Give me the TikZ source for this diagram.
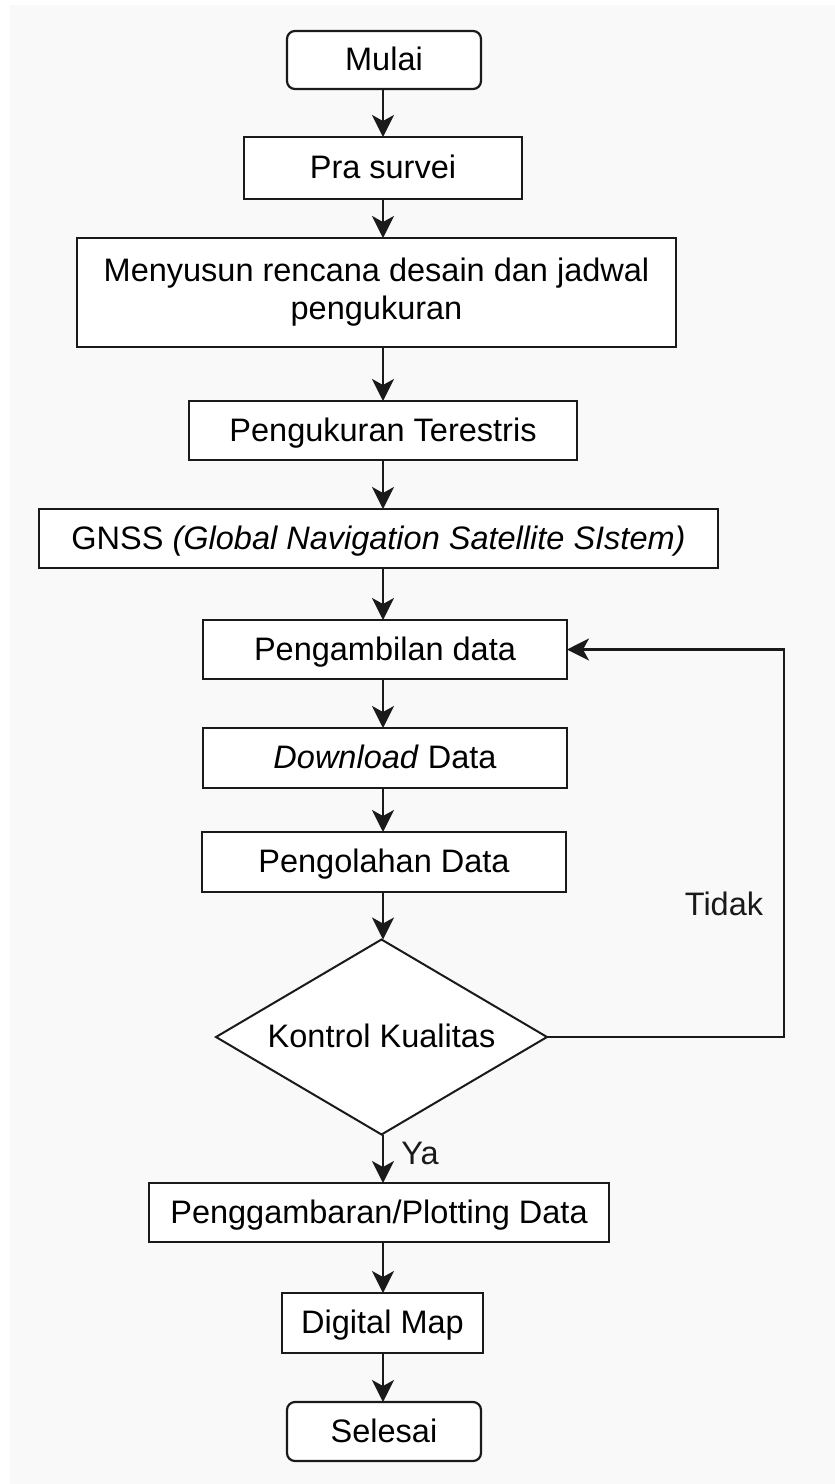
\documentclass[tikz,border=0pt]{standalone}
\usepackage{fontspec}
\setmainfont{Liberation Sans}
\usetikzlibrary{shapes.geometric,arrows.meta}
\definecolor{bgc}{HTML}{F9F9F9}
\definecolor{ink}{HTML}{1A1A1A}
\begin{document}
\begin{tikzpicture}[x=1pt,y=-1pt,
  base/.style={draw=ink, line width=2.2pt, fill=white, inner sep=0pt, outer sep=0pt, align=center, font=\fontsize{32.5}{38}\selectfont},
  box/.style={base, text height=23.5pt, text depth=2pt},
  term/.style={box, rounded corners=8pt},
  dec/.style={box, shape=diamond, aspect=1.7, line width=2pt},
  arr/.style={draw=ink, line width=2.4pt, -{Stealth[length=22pt,width=22pt,inset=6pt]}},
  lbl/.style={font=\fontsize{32.5}{38}\selectfont, inner sep=0pt, text=ink}]
\useasboundingbox (0,0) rectangle (835,1484);
\fill[white] (0,0) rectangle (835,1484);
\fill[bgc] (10,5) rectangle (835,1484);
\coordinate (spine) at (383,0);
\coordinate (loopx) at (784,0);
\node[term, minimum width=194pt, minimum height=58pt] (mulai) at (384,60) {Mulai};
\node[box, minimum width=278pt, minimum height=62pt] (pra) at (383,168) {Pra survei};
\node[base, minimum width=599pt, minimum height=109pt] (susun) at (376.5,292.5) {Menyusun rencana desain dan jadwal\\pengukuran};
\node[box, minimum width=388pt, minimum height=59pt] (ukur) at (383,430.5) {Pengukuran Terestris};
\node[box, minimum width=679pt, minimum height=59pt] (gnss) at (378.5,538.5) {GNSS \textit{(Global Navigation Satellite SIstem)}};
\node[box, minimum width=364pt, minimum height=59pt] (ambil) at (385,649.5) {Pengambilan data};
\node[box, minimum width=364pt, minimum height=60pt] (down) at (385,758) {\textit{Download} Data};
\node[box, minimum width=364pt, minimum height=60pt] (olah) at (384,862) {Pengolahan Data};
\node[dec, minimum width=331pt, minimum height=195pt] (kontrol) at (381.5,1037) {Kontrol Kualitas};
\node[box, minimum width=460pt, minimum height=59pt] (gambar) at (379,1212.5) {Penggambaran/Plotting Data};
\node[box, minimum width=201pt, minimum height=60pt] (digmap) at (382.5,1323) {Digital Map};
\node[term, minimum width=194pt, minimum height=59pt] (selesai) at (384,1431.5) {Selesai};
\node[lbl] (tidak) at (724,904) {Tidak};
\node[lbl] (ya) at (420,1153) {Ya};
\draw[arr] (mulai.south -| spine) -- (pra.north -| spine);
\draw[arr] (pra.south -| spine) -- (susun.north -| spine);
\draw[arr] (susun.south -| spine) -- (ukur.north -| spine);
\draw[arr] (ukur.south -| spine) -- (gnss.north -| spine);
\draw[arr] (gnss.south -| spine) -- (ambil.north -| spine);
\draw[arr] (ambil.south -| spine) -- (down.north -| spine);
\draw[arr] (down.south -| spine) -- (olah.north -| spine);
\draw[arr] (olah.south -| spine) -- (kontrol.north -| spine);
\draw[arr] (kontrol.south -| spine) -- (gambar.north -| spine);
\draw[arr] (gambar.south -| spine) -- (digmap.north -| spine);
\draw[arr] (digmap.south -| spine) -- (selesai.north -| spine);
\draw[arr] (kontrol.east) -- (kontrol.east -| loopx) -- (ambil.east -| loopx) -- (ambil.east);
\end{tikzpicture}
\end{document}
